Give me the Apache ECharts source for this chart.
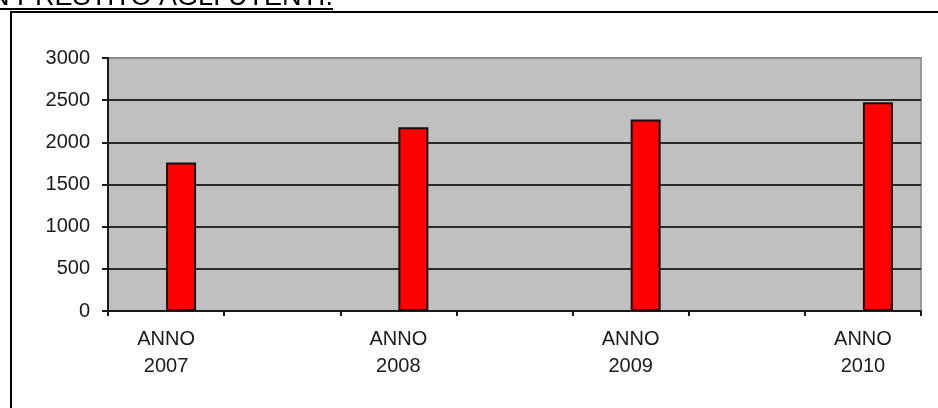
<!DOCTYPE html>
<html>
<head>
<meta charset="utf-8">
<script src="https://cdn.jsdelivr.net/npm/echarts@6/dist/echarts.min.js"></script>
<style>
  html, body { margin: 0; padding: 0; background: #ffffff; }
  #chart { width: 938px; height: 408px; }
</style>
</head>
<body>
<div id="chart"></div>
<script>
// Year slots; the blank entries are spacer columns between the years
const categories = ['ANNO\n2007', '', 'ANNO\n2008', '', 'ANNO\n2009', '', 'ANNO\n2010'];
// Empty companion series (keeps the red bars to the right of each slot centre)
const emptySeries = [null, null, null, null, null, null, null];
// Loans per year
const loans = [1760, null, 2180, null, 2270, null, 2475];
const yTicks = [0, 500, 1000, 1500, 2000, 2500, 3000];
const headingText = 'IN PRESTITO AGLI UTENTI.';

const chart = echarts.init(document.getElementById('chart'), null, { renderer: 'canvas' });

const font = 'Arial, "Liberation Sans", sans-serif';

chart.setOption({
  animation: false,
  backgroundColor: '#ffffff',
  grid: {
    left: 108, right: 17, top: 58, bottom: 97,
    containLabel: false,
    outerBoundsMode: 'none',
    show: true,
    backgroundColor: '#c0c0c0',
    borderColor: '#9a9a9a',
    borderWidth: 2
  },
  xAxis: {
    type: 'category',
    data: categories,
    boundaryGap: true,
    axisLine: { show: true, lineStyle: { color: '#1a1a1a', width: 2 } },
    axisTick: { show: true, interval: 0, length: 5, lineStyle: { color: '#1a1a1a', width: 2 } },
    axisLabel: {
      interval: 0,
      margin: 15,
      fontFamily: font,
      fontSize: 20,
      lineHeight: 27,
      color: '#1a1a1a'
    },
    splitLine: { show: false }
  },
  yAxis: {
    type: 'value',
    min: yTicks[0],
    max: yTicks[yTicks.length - 1],
    interval: yTicks[1] - yTicks[0],
    axisLine: { show: true, lineStyle: { color: '#1a1a1a', width: 2 } },
    axisTick: { show: true, length: 6, lineStyle: { color: '#1a1a1a', width: 2 } },
    axisLabel: {
      margin: 18,
      fontFamily: font,
      fontSize: 20,
      color: '#1a1a1a',
      formatter: (v) => String(v)
    },
    splitLine: {
      show: true,
      lineStyle: {
        color: ['#2a2a2a', '#2a2a2a', '#2a2a2a', '#2a2a2a', '#2a2a2a', '#2a2a2a', '#8a8a8a'],
        width: 2
      }
    }
  },
  series: [
    {
      type: 'bar',
      data: emptySeries,
      barWidth: 30,
      barGap: '0%',
      itemStyle: { color: '#0000ff' }
    },
    {
      type: 'bar',
      data: loans,
      barWidth: 30,
      barGap: '0%',
      itemStyle: { color: '#ff0000', borderColor: '#111111', borderWidth: 2 }
    }
  ],
  graphic: [
    {
      type: 'text',
      x: 333,
      y: -2,
      style: {
        text: headingText,
        fontFamily: font,
        fontSize: 27,
        fill: '#000000',
        align: 'right',
        verticalAlign: 'middle'
      }
    },
    {
      type: 'line',
      shape: { x1: 0, y1: 9, x2: 333, y2: 9 },
      style: { stroke: '#000000', lineWidth: 2 }
    },
    {
      type: 'polyline',
      shape: { points: [[11, 410], [11, 12], [940, 12]] },
      style: { stroke: '#000000', lineWidth: 2, fill: null }
    }
  ]
});
</script>
</body>
</html>
